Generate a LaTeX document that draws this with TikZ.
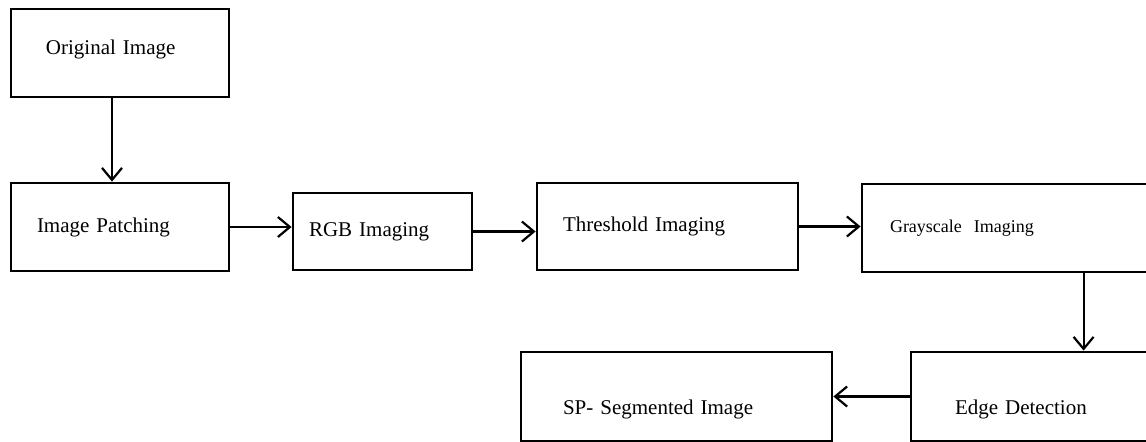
\documentclass[tikz,border=0pt]{standalone}
\usepackage{fontspec}
\setmainfont{Liberation Serif}
\usetikzlibrary{arrows.meta}

\begin{document}
\begin{tikzpicture}[x=0.5pt, y=-0.5pt,
    box/.style={rectangle, draw=black, line width=1.4pt, align=left,
        inner ysep=1pt, font=\fontsize{10.5}{12}\selectfont},
    low/.style={text height=20pt, text depth=2pt},
    arrow/.style={-{Straight Barb[length=6pt, width=10pt, line width=1.1pt]}, line width=1.1pt}]
\clip (0,0) rectangle (1146,441);
\node[box, minimum height=44pt, inner xsep=17.5pt, text width=74pt,
    text depth=6pt] (orig) at (120,53) {Original Image};
\node[box, minimum height=44pt, inner xsep=13pt, text width=83pt] (patch) at (120,227) {Image Patching};
\node[box, minimum height=38.5pt, inner xsep=8pt, text width=73.5pt] (rgb) at (382.5,231.5) {RGB Imaging};
\node[box, minimum height=43.5pt, inner xsep=13pt, text width=104.5pt] (thresh) at (667.5,226.5) {Threshold Imaging};
\node[box, minimum height=44pt, inner xsep=14pt, text width=126pt,
    font=\fontsize{9}{11}\selectfont] (gray) at (1016,228) {Grayscale\ \ Imaging};
\node[box, low, minimum height=44.5pt, inner xsep=22pt, text width=85.5pt] (edge) at (1040.5,396.5) {Edge Detection};
\node[box, low, minimum height=44.5pt, inner xsep=21pt, text width=113.5pt] (sp) at (676.5,396.5) {SP- Segmented Image};
% connectors
\draw[arrow] ([xshift=-4pt]orig.south) -- ([xshift=-4pt]patch.north);
\draw[arrow] (patch.east) -- (patch.east -| rgb.west);
\draw[arrow] (rgb.east) -- (rgb.east -| thresh.west);
\draw[arrow] (thresh.east) -- (thresh.east -| gray.west);
\draw[arrow] ([xshift=87pt]edge.north west |- gray.south) -- ([xshift=87pt]edge.north west);
\draw[arrow] (edge.west) -- (edge.west -| sp.east);
\end{tikzpicture}
\end{document}
